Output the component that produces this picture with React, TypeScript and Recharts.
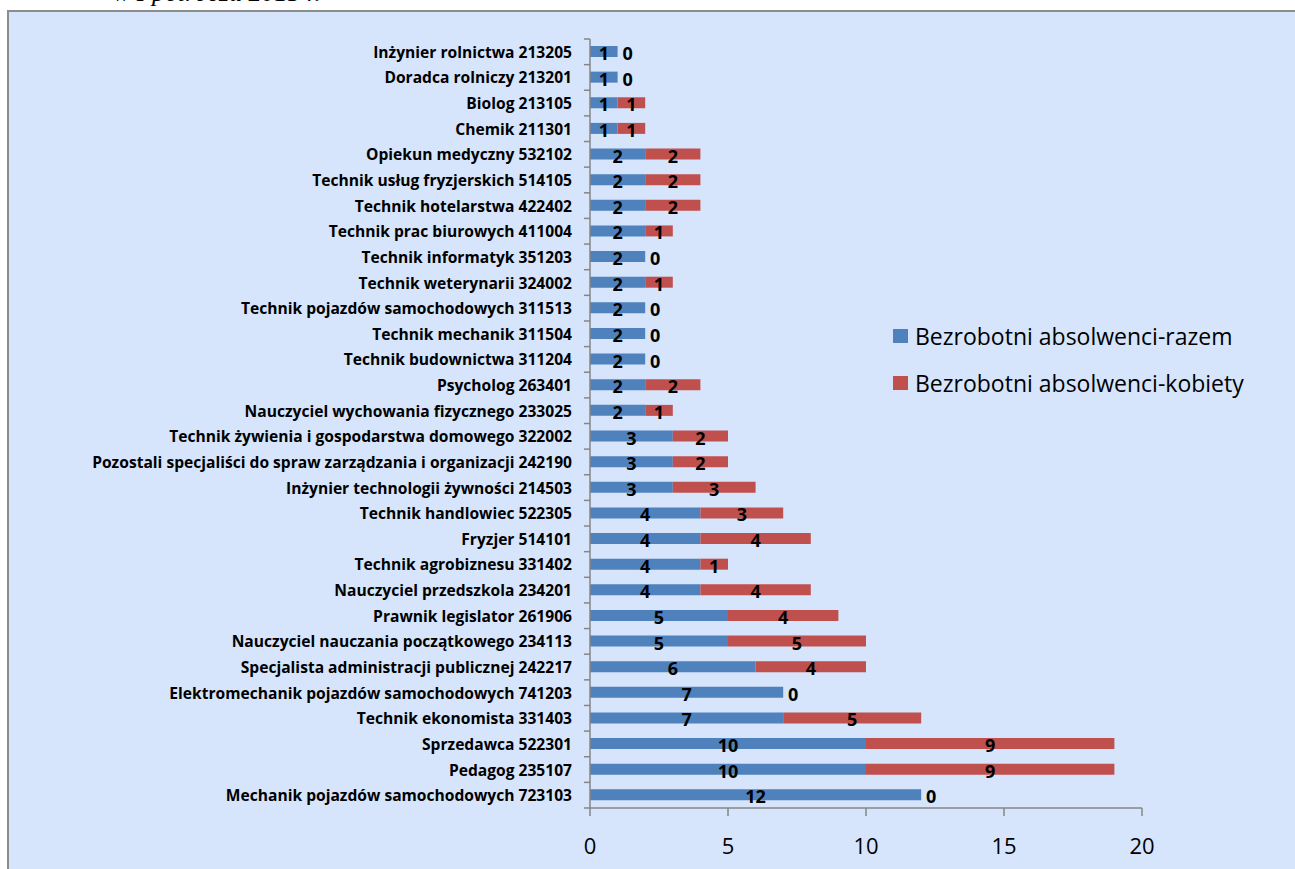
import React from "react";
import { BarChart, Bar, XAxis, YAxis, LabelList } from "recharts";

// kategorie od góry do dołu
const categories = [
  "Inżynier rolnictwa 213205",
  "Doradca rolniczy 213201",
  "Biolog 213105",
  "Chemik 211301",
  "Opiekun medyczny 532102",
  "Technik usług fryzjerskich 514105",
  "Technik hotelarstwa 422402",
  "Technik prac biurowych 411004",
  "Technik informatyk 351203",
  "Technik weterynarii 324002",
  "Technik pojazdów samochodowych 311513",
  "Technik mechanik 311504",
  "Technik budownictwa 311204",
  "Psycholog 263401",
  "Nauczyciel wychowania fizycznego 233025",
  "Technik żywienia i gospodarstwa domowego 322002",
  "Pozostali specjaliści do spraw zarządzania i organizacji 242190",
  "Inżynier technologii żywności 214503",
  "Technik handlowiec 522305",
  "Fryzjer 514101",
  "Technik agrobiznesu 331402",
  "Nauczyciel przedszkola 234201",
  "Prawnik legislator 261906",
  "Nauczyciel nauczania początkowego 234113",
  "Specjalista administracji publicznej 242217",
  "Elektromechanik pojazdów samochodowych 741203",
  "Technik ekonomista 331403",
  "Sprzedawca 522301",
  "Pedagog 235107",
  "Mechanik pojazdów samochodowych 723103",
];

const razem = [1, 1, 1, 1, 2, 2, 2, 2, 2, 2, 2, 2, 2, 2, 2, 3, 3, 3, 4, 4, 4, 4, 5, 5, 6, 7, 7, 10, 10, 12];
const kobiety = [0, 0, 1, 1, 2, 2, 2, 1, 0, 1, 0, 0, 0, 2, 1, 2, 2, 3, 3, 4, 1, 4, 4, 5, 4, 0, 5, 9, 9, 0];

const xTicks = [0, 5, 10, 15, 20];

const series = [
  { key: "razem", name: "Bezrobotni absolwenci-razem", color: "#4f81bd" },
  { key: "kobiety", name: "Bezrobotni absolwenci-kobiety", color: "#c0504d" },
];

const data = categories.map((name, i) => ({ name, razem: razem[i], kobiety: kobiety[i] }));

const W = 1295;
const H = 869;
const margin = { top: 39, right: 153, bottom: 11, left: 0 };
const yAxisWidth = 590;
const xAxisHeight = 50;
const band = (H - margin.top - margin.bottom - xAxisHeight) / categories.length;
const axisColor = "#868686";
const font = "'Open Sans', sans-serif";

const YTick = (props: any) => {
  const { x, y, payload, index } = props;
  const ax = x + 18;
  return (
    <g>
      {index === 0 && <line x1={ax - 6} x2={ax} y1={y - band / 2} y2={y - band / 2} stroke={axisColor} strokeWidth={1.5} />}
      <line x1={ax - 6} x2={ax} y1={y + band / 2} y2={y + band / 2} stroke={axisColor} strokeWidth={1.5} />
      <text x={x} y={y} textAnchor="end" dominantBaseline="central" fontFamily={font} fontWeight={700} fontSize={15.6} fill="#000">
        {payload.value}
      </text>
    </g>
  );
};

const numText = (x: number, y: number, v: number) => (
  <text x={x} y={y + 1.5} textAnchor="middle" dominantBaseline="central" fontFamily={font} fontWeight={700} fontSize={18} fill="#000">
    {v}
  </text>
);

// etykiety "razem" + zera "kobiet" (słupek o zerowej długości nie ma etykiety)
const renderRazem = (props: any) => {
  const { x, y, width, height, value, index } = props;
  const k = kobiety[index];
  const cy = Number(y) + Number(height) / 2;
  return (
    <g>
      {numText(Number(x) + Number(width) / 2, cy, value)}
      {k === 0 && numText(Number(x) + Number(width) + 10, cy, 0)}
    </g>
  );
};

const renderKobiety = (props: any) => {
  const { x, y, width, height, value } = props;
  if (!value) return null;
  return numText(Number(x) + Number(width) / 2, Number(y) + Number(height) / 2, value);
};

export default function App() {
  return (
    <div style={{ position: "fixed", left: 0, top: 0, width: W, height: H, overflow: "hidden", background: "#fff" }}>
      <div
        style={{
          position: "absolute",
          left: 113,
          top: -22,
          lineHeight: "30px",
          fontFamily: "'Liberation Serif', serif",
          fontStyle: "italic",
          fontSize: 26,
          whiteSpace: "nowrap",
        }}
      >
        w I półroczu 2015 r.
      </div>
      <div
        style={{
          position: "absolute",
          left: 7,
          top: 10,
          width: 1320,
          height: 900,
          background: "#d6e5fc",
          borderLeft: "2px solid #8c8c8c",
          borderTop: "2px solid #8c8c8c",
        }}
      />
      <div style={{ position: "absolute", left: 0, top: 0 }}>
        <BarChart width={W} height={H} data={data} layout="vertical" margin={margin} barSize={11}>
          <XAxis
            type="number"
            domain={[0, 20]}
            ticks={xTicks}
            height={xAxisHeight}
            axisLine={{ stroke: axisColor, strokeWidth: 1.5 }}
            tickLine={{ stroke: axisColor, strokeWidth: 1.5 }}
            tickSize={8}
            tickMargin={22}
            tick={{ fontSize: 22, fill: "#000", fontFamily: font }}
          />
          <YAxis
            type="category"
            dataKey="name"
            width={yAxisWidth}
            axisLine={{ stroke: axisColor, strokeWidth: 1.5 }}
            tickLine={false}
            tickSize={0}
            tickMargin={18}
            interval={0}
            tick={<YTick />}
          />
          {series.map((s) => (
            <Bar key={s.key} dataKey={s.key} name={s.name} stackId="a" fill={s.color} isAnimationActive={false}>
              <LabelList dataKey={s.key} content={s.key === "razem" ? renderRazem : renderKobiety} />
            </Bar>
          ))}
        </BarChart>
      </div>
      <div style={{ position: "absolute", left: 893, top: 320, fontFamily: font, fontSize: 23, color: "#000" }}>
        {series.map((s) => (
          <div key={s.key} style={{ display: "flex", alignItems: "center", height: 32, marginBottom: 15 }}>
            <span style={{ display: "inline-block", width: 15, height: 14, background: s.color, marginRight: 7 }} />
            <span>{s.name}</span>
          </div>
        ))}
      </div>
    </div>
  );
}
